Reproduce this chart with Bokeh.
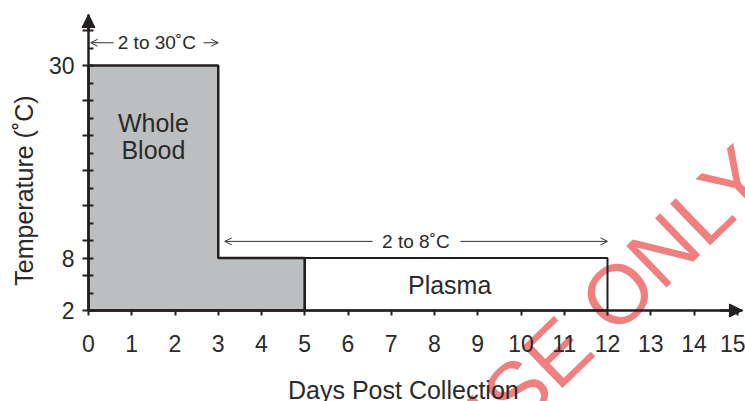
from bokeh.plotting import figure
from bokeh.models import Arrow, NormalHead, OpenHead, Label, FixedTicker, Range1d
from bokeh.embed import file_html
from bokeh.resources import INLINE
import math

# ---- data ----
x_ticks = list(range(0, 16))
y_labeled_ticks = [2, 8, 30]
y_long_ticks = [2, 6, 8, 10, 14, 18, 22, 26, 30, 34]
y_short_ticks = [4, 12, 16, 20, 24, 28, 32]

whole_blood_days = [0, 3, 5]      # step edges
whole_blood_temps = [30, 8]       # 2-30 C for days 0-3, 2-8 C for days 3-5
plasma_days = [5, 12]
plasma_temp = 8
base_temp = 2

range_30_label = "2 to 30˚C"
range_30_days = [0, 3]
range_30_y = 32.6
range_8_label = "2 to 8˚C"
range_8_days = [3, 12]
range_8_y = 9.9

INK = "#231f20"
TXT = "#2a2a2a"
FONT = "Liberation Sans"

X_END = 15.12
Y_END = 35.83

p = figure(width=745, height=401,
           x_range=Range1d(-88 / 43.25, 657 / 43.25),
           y_range=Range1d(2 - 91 / 8.75, 2 + 310 / 8.75),
           output_backend="svg", toolbar_location=None,
           min_border=0, min_border_left=0, min_border_right=0,
           min_border_top=0, min_border_bottom=0)
p.outline_line_color = None
p.grid.visible = False
p.background_fill_color = "white"
p.border_fill_color = "white"

# axes drawn at fixed data locations
p.xaxis.fixed_location = base_temp
p.xaxis.bounds = (0, X_END)
p.xaxis.ticker = FixedTicker(ticks=x_ticks)
p.xaxis.axis_line_width = 2.5
p.xaxis.axis_line_color = INK
p.xaxis.major_tick_line_color = INK
p.xaxis.major_tick_line_width = 2
p.xaxis.major_tick_out = 5
p.xaxis.major_tick_in = 0
p.xaxis.minor_tick_line_color = None
p.xaxis.major_label_text_font = FONT
p.xaxis.major_label_text_font_size = "23px"
p.xaxis.major_label_text_color = TXT
p.xaxis.major_label_standoff = 19

p.yaxis.fixed_location = 0
p.yaxis.bounds = (base_temp, Y_END)
p.yaxis.ticker = FixedTicker(ticks=y_long_ticks, minor_ticks=y_short_ticks)
p.yaxis.major_label_overrides = {t: ("" if t not in y_labeled_ticks else str(t)) for t in y_long_ticks}
p.yaxis.axis_line_width = 2.5
p.yaxis.axis_line_color = INK
p.yaxis.major_tick_line_color = INK
p.yaxis.major_tick_line_width = 2
p.yaxis.major_tick_out = 6
p.yaxis.major_tick_in = 5
p.yaxis.minor_tick_line_color = INK
p.yaxis.minor_tick_line_width = 2
p.yaxis.minor_tick_out = 0
p.yaxis.minor_tick_in = 5
p.yaxis.major_label_text_font = FONT
p.yaxis.major_label_text_font_size = "23px"
p.yaxis.major_label_text_color = TXT
p.yaxis.major_label_standoff = 8

# watermark (underneath)
wm = Label(x=15.40, y=18.96, text="USE ONLY", text_font=FONT, text_font_size="84px",
           text_color="#f08080", text_align="right", text_baseline="middle",
           angle=math.radians(44), level="underlay")
p.add_layout(wm)

# whole blood region
wx = [whole_blood_days[0], whole_blood_days[0], whole_blood_days[1], whole_blood_days[1],
      whole_blood_days[2], whole_blood_days[2]]
wy = [base_temp, whole_blood_temps[0], whole_blood_temps[0], whole_blood_temps[1],
      whole_blood_temps[1], base_temp]
p.patch(wx, wy, fill_color="#bdbec0", line_color=INK, line_width=2.5)

# plasma box
p.quad(left=[plasma_days[0]], right=[plasma_days[1]], bottom=[base_temp], top=[plasma_temp],
       fill_color=None, line_color=INK, line_width=2)

# axis arrow heads
p.add_layout(Arrow(end=NormalHead(size=13, fill_color=INK, line_color=INK),
                   x_start=0, y_start=34, x_end=0, y_end=Y_END,
                   line_width=2.5, line_color=INK))
p.add_layout(Arrow(end=NormalHead(size=13, fill_color=INK, line_color=INK),
                   x_start=14.6, y_start=base_temp, x_end=X_END, y_end=base_temp,
                   line_width=2.5, line_color=INK))

# range arrows
ARC = "#333333"
p.add_layout(Arrow(end=OpenHead(size=7, line_color=ARC, line_width=1),
                   x_start=0.58, y_start=range_30_y, x_end=range_30_days[0] + 0.05, y_end=range_30_y,
                   line_color=ARC, line_width=1))
p.add_layout(Arrow(end=OpenHead(size=7, line_color=ARC, line_width=1),
                   x_start=2.66, y_start=range_30_y, x_end=range_30_days[1], y_end=range_30_y,
                   line_color=ARC, line_width=1))
p.add_layout(Label(x=1.58, y=range_30_y, text=range_30_label, text_font=FONT,
                   text_font_size="19px", text_color=TXT, text_align="center", text_baseline="middle"))

p.add_layout(Arrow(end=OpenHead(size=7, line_color=ARC, line_width=1),
                   x_start=6.57, y_start=range_8_y, x_end=range_8_days[0] + 0.15, y_end=range_8_y,
                   line_color=ARC, line_width=1))
p.add_layout(Arrow(end=OpenHead(size=7, line_color=ARC, line_width=1),
                   x_start=8.6, y_start=range_8_y, x_end=range_8_days[1], y_end=range_8_y,
                   line_color=ARC, line_width=1))
p.add_layout(Label(x=7.57, y=range_8_y, text=range_8_label, text_font=FONT,
                   text_font_size="19px", text_color=TXT, text_align="center", text_baseline="middle"))

# region labels
p.add_layout(Label(x=1.5, y=23.4, text="Whole", text_font=FONT, text_font_size="25px",
                   text_color=TXT, text_align="center", text_baseline="middle"))
p.add_layout(Label(x=1.5, y=20.4, text="Blood", text_font=FONT, text_font_size="25px",
                   text_color=TXT, text_align="center", text_baseline="middle"))
p.add_layout(Label(x=8.35, y=4.97, text="Plasma", text_font=FONT, text_font_size="25px",
                   text_color=TXT, text_align="center", text_baseline="middle"))

# axis titles
p.add_layout(Label(x=7.28, y=-7.03, text="Days Post Collection", text_font=FONT,
                   text_font_size="25px", text_color=TXT, text_align="center",
                   text_baseline="alphabetic"))
p.add_layout(Label(x=-1.5, y=15.71, text="Temperature (˚C)", text_font=FONT,
                   text_font_size="25px", text_color=TXT, text_align="center",
                   text_baseline="alphabetic", angle=math.pi / 2))

open("out.html", "w").write(file_html(p, INLINE))
